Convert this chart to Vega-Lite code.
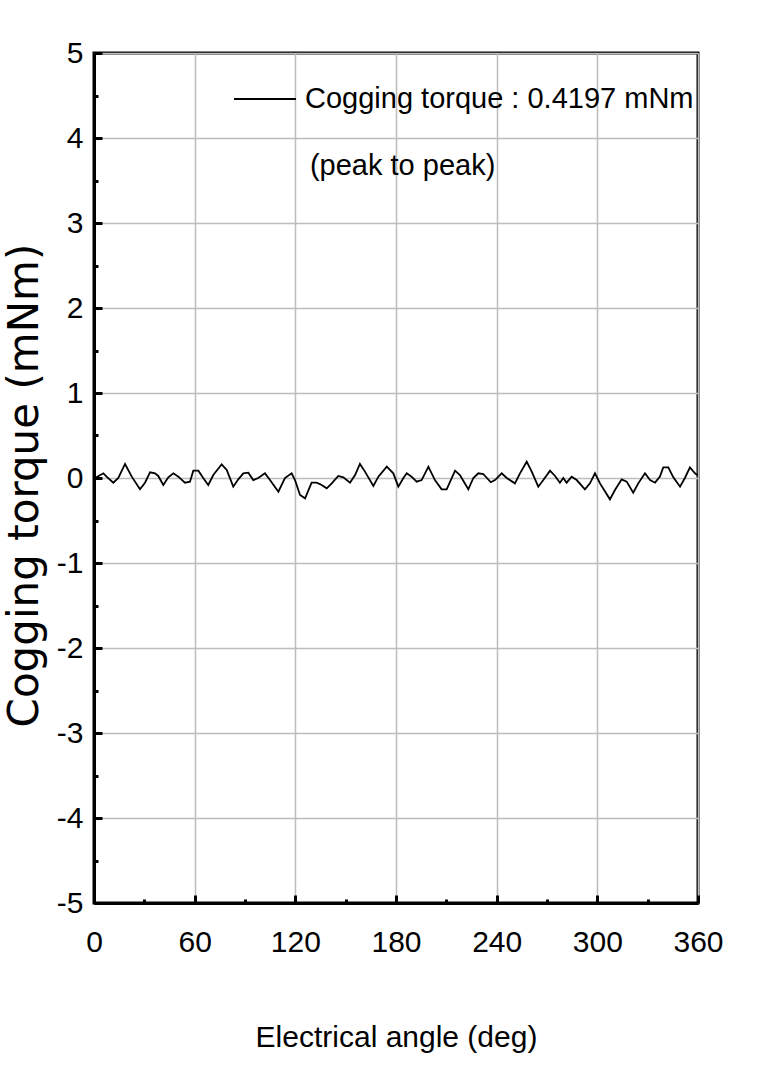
{
  "$schema": "https://vega.github.io/schema/vega-lite/v6.json",
  "width": 604,
  "height": 850,
  "autosize": {"type": "none"},
  "padding": {"left": 94, "top": 53, "right": 70, "bottom": 174},
  "background": "white",
  "config": {
    "view": {"stroke": "black", "strokeWidth": 3},
    "font": "Liberation Sans",
    "axis": {
      "domainColor": "black",
      "domainWidth": 3,
      "tickColor": "black",
      "tickWidth": 3,
      "gridColor": "#bdbdbd",
      "gridWidth": 1.5,
      "labelFont": "Liberation Sans",
      "labelFontSize": 30,
      "labelColor": "black",
      "titleColor": "black"
    }
  },
  "layer": [
    {
      "data": {
        "values": [
          {"angle": 0, "torque": 0.02}, {"angle": 0.6, "torque": 0.0}, {"angle": 5.6, "torque": 0.055}, {"angle": 7.5, "torque": 0.016},
          {"angle": 11.5, "torque": -0.055}, {"angle": 14.5, "torque": 0.0}, {"angle": 18.5, "torque": 0.165}, {"angle": 22.5, "torque": 0.016},
          {"angle": 27.4, "torque": -0.133}, {"angle": 30.4, "torque": -0.055}, {"angle": 33.4, "torque": 0.067}, {"angle": 36.4, "torque": 0.055},
          {"angle": 38.3, "torque": 0.024}, {"angle": 41.3, "torque": -0.082}, {"angle": 44.3, "torque": 0.008}, {"angle": 47.3, "torque": 0.055},
          {"angle": 50.3, "torque": 0.016}, {"angle": 54.2, "torque": -0.055}, {"angle": 57.2, "torque": -0.043}, {"angle": 59.2, "torque": 0.086},
          {"angle": 62.2, "torque": 0.086}, {"angle": 65.1, "torque": 0.0}, {"angle": 68.1, "torque": -0.082}, {"angle": 71.1, "torque": 0.035},
          {"angle": 76.1, "torque": 0.161}, {"angle": 79.1, "torque": 0.094}, {"angle": 83.0, "torque": -0.102}, {"angle": 86.0, "torque": -0.016},
          {"angle": 89.0, "torque": 0.055}, {"angle": 92.0, "torque": 0.063}, {"angle": 94.9, "torque": -0.024}, {"angle": 97.9, "torque": 0.0},
          {"angle": 101.9, "torque": 0.055}, {"angle": 104.9, "torque": -0.024}, {"angle": 109.9, "torque": -0.161}, {"angle": 113.8, "torque": 0.0},
          {"angle": 117.8, "torque": 0.055}, {"angle": 119.8, "torque": -0.024}, {"angle": 122.8, "torque": -0.2}, {"angle": 125.8, "torque": -0.239},
          {"angle": 129.7, "torque": -0.055}, {"angle": 132.7, "torque": -0.055}, {"angle": 135.7, "torque": -0.082}, {"angle": 138.7, "torque": -0.122},
          {"angle": 141.7, "torque": -0.063}, {"angle": 145.6, "torque": 0.024}, {"angle": 148.6, "torque": 0.008}, {"angle": 152.6, "torque": -0.055},
          {"angle": 155.6, "torque": 0.035}, {"angle": 158.5, "torque": 0.165}, {"angle": 161.5, "torque": 0.075}, {"angle": 166.5, "torque": -0.094},
          {"angle": 169.5, "torque": 0.016}, {"angle": 174.5, "torque": 0.133}, {"angle": 178.4, "torque": 0.055}, {"angle": 181.4, "torque": -0.102},
          {"angle": 184.4, "torque": 0.0}, {"angle": 186.4, "torque": 0.055}, {"angle": 189.3, "torque": 0.016}, {"angle": 192.3, "torque": -0.043},
          {"angle": 195.3, "torque": -0.024}, {"angle": 199.3, "torque": 0.133}, {"angle": 203.2, "torque": -0.024}, {"angle": 207.2, "torque": -0.133},
          {"angle": 210.2, "torque": -0.133}, {"angle": 215.2, "torque": 0.086}, {"angle": 218.1, "torque": 0.035}, {"angle": 223.1, "torque": -0.133},
          {"angle": 226.1, "torque": 0.0}, {"angle": 229.1, "torque": 0.055}, {"angle": 232.0, "torque": 0.047}, {"angle": 236.5, "torque": -0.05},
          {"angle": 239.0, "torque": -0.024}, {"angle": 243.0, "torque": 0.055}, {"angle": 246.0, "torque": 0.0}, {"angle": 250.9, "torque": -0.063},
          {"angle": 253.9, "torque": 0.055}, {"angle": 257.9, "torque": 0.192}, {"angle": 260.9, "torque": 0.075}, {"angle": 264.8, "torque": -0.102},
          {"angle": 267.8, "torque": -0.024}, {"angle": 271.8, "torque": 0.086}, {"angle": 274.8, "torque": 0.024}, {"angle": 277.7, "torque": -0.055},
          {"angle": 279.7, "torque": 0.0}, {"angle": 281.7, "torque": -0.055}, {"angle": 284.7, "torque": 0.016}, {"angle": 287.7, "torque": -0.024},
          {"angle": 292.6, "torque": -0.133}, {"angle": 295.6, "torque": -0.063}, {"angle": 298.6, "torque": 0.055}, {"angle": 301.6, "torque": -0.063},
          {"angle": 307.5, "torque": -0.251}, {"angle": 310.5, "torque": -0.141}, {"angle": 314.5, "torque": -0.016}, {"angle": 317.5, "torque": -0.043},
          {"angle": 321.4, "torque": -0.173}, {"angle": 324.4, "torque": -0.063}, {"angle": 328.4, "torque": 0.055}, {"angle": 331.4, "torque": -0.024},
          {"angle": 334.4, "torque": -0.055}, {"angle": 337.3, "torque": 0.016}, {"angle": 339.3, "torque": 0.125}, {"angle": 342.3, "torque": 0.125},
          {"angle": 345.3, "torque": 0.008}, {"angle": 349.3, "torque": -0.102}, {"angle": 352.2, "torque": 0.0}, {"angle": 355.2, "torque": 0.125},
          {"angle": 358.2, "torque": 0.055}, {"angle": 360, "torque": 0.03}
        ]
      },
      "mark": {"type": "line", "strokeWidth": 1.8, "clip": true},
      "encoding": {
        "x": {
          "field": "angle",
          "type": "quantitative",
          "scale": {"domain": [0, 360], "nice": false},
          "axis": {
            "values": [0, 30, 60, 90, 120, 150, 180, 210, 240, 270, 300, 330, 360],
            "labelExpr": "datum.value % 60 === 0 ? toString(datum.value) : ''",
            "tickSize": {"condition": {"test": "datum.value % 60 !== 0", "value": -4}, "value": -8},
            "gridOpacity": {"condition": {"test": "datum.value % 60 !== 0", "value": 0}, "value": 1},
            "labelPadding": 32,
            "labelFlush": false,
            "title": "Electrical angle (deg)",
            "titleFont": "Liberation Sans",
            "titleFontSize": 30,
            "titleFontWeight": "normal",
            "titleBaseline": "alphabetic",
            "titleY": 143
          }
        },
        "y": {
          "field": "torque",
          "type": "quantitative",
          "scale": {"domain": [-5, 5], "nice": false},
          "axis": {
            "values": [-5, -4.5, -4, -3.5, -3, -2.5, -2, -1.5, -1, -0.5, 0, 0.5, 1, 1.5, 2, 2.5, 3, 3.5, 4, 4.5, 5],
            "labelExpr": "datum.value % 1 === 0 ? toString(datum.value) : ''",
            "tickSize": {"condition": {"test": "datum.value % 1 !== 0", "value": -4}, "value": -8},
            "gridOpacity": {"condition": {"test": "datum.value % 1 !== 0", "value": 0}, "value": 1},
            "labelPadding": 19,
            "labelFlush": false,
            "title": "Cogging torque (mNm)",
            "titleFont": "DejaVu Sans",
            "titleFontSize": 42,
            "titleFontWeight": "normal",
            "titleBaseline": "alphabetic",
            "titleX": -57,
            "titleY": 432
          }
        },
        "color": {
          "datum": "Cogging torque : 0.4197 mNm",
          "scale": {"range": ["black"]},
          "legend": {
            "orient": "none",
            "legendX": 139,
            "legendY": 14,
            "title": null,
            "padding": 0,
            "symbolType": "stroke",
            "symbolSize": 3844,
            "symbolStrokeWidth": 1.8,
            "symbolStrokeColor": "black",
            "labelFont": "Liberation Sans",
            "labelFontSize": 29,
            "labelColor": "black",
            "labelOffset": 8,
            "labelLimit": 600
          }
        }
      }
    },
    {
      "data": {"values": [{"angle": 128.7, "torque": 3.67, "note": "(peak to peak)"}]},
      "mark": {"type": "text", "align": "left", "baseline": "middle", "font": "Liberation Sans", "fontSize": 29, "color": "black"},
      "encoding": {
        "x": {"field": "angle", "type": "quantitative"},
        "y": {"field": "torque", "type": "quantitative"},
        "text": {"field": "note"}
      }
    }
  ]
}
